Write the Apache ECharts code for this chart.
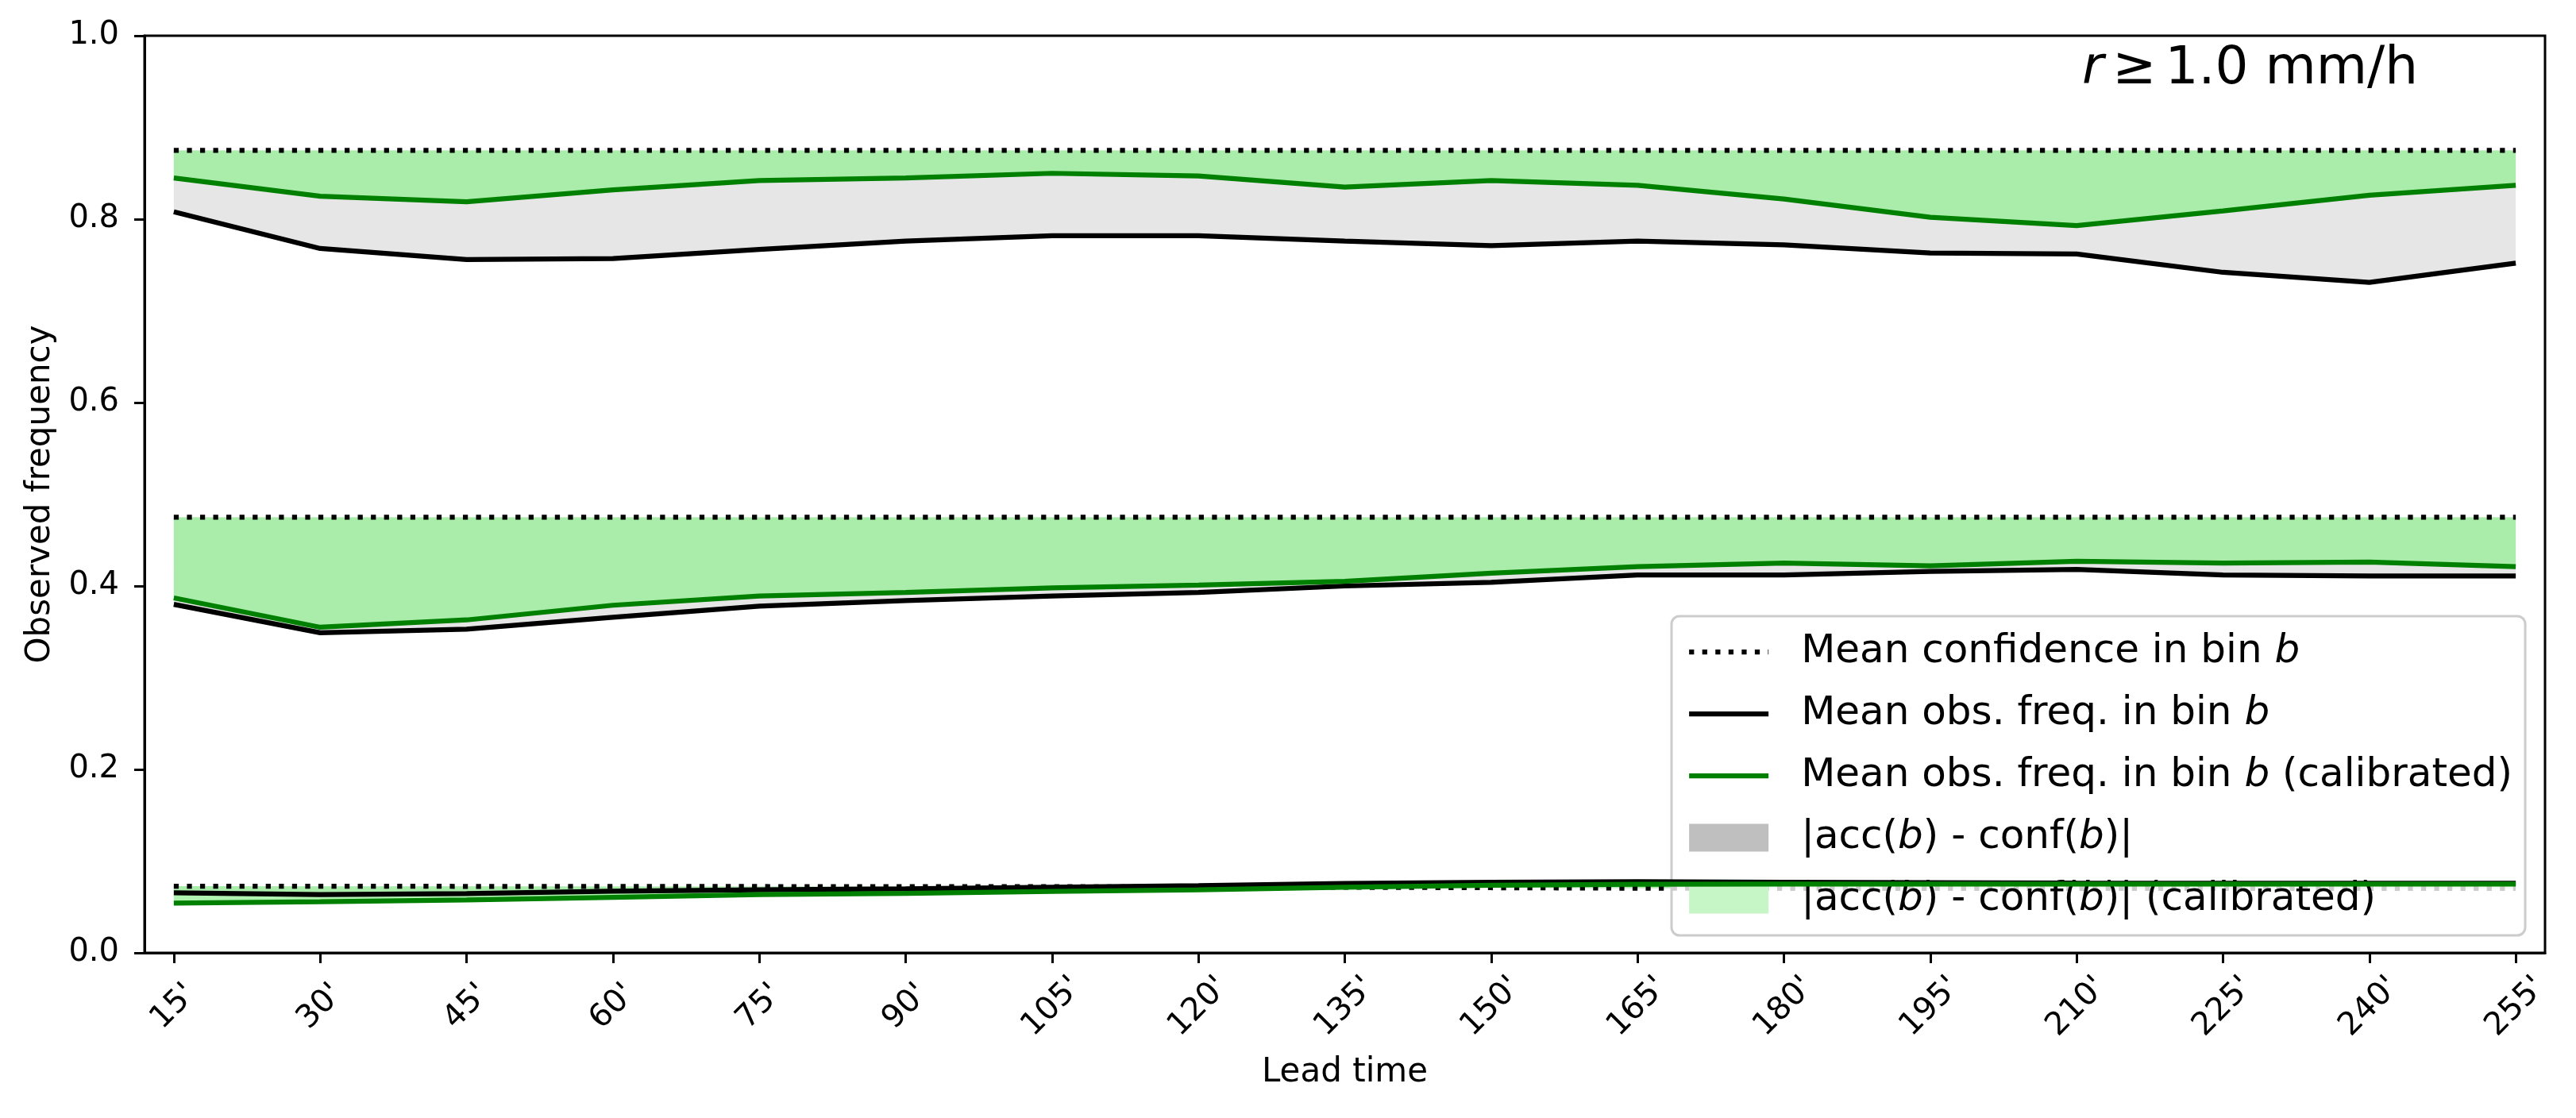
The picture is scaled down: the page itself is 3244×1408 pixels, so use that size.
<!DOCTYPE html>
<html>
<head>
<meta charset="utf-8">
<script src="https://cdn.jsdelivr.net/npm/echarts@6/dist/echarts.min.js"></script>
<style>
  html, body { margin: 0; padding: 0; background: #fff; }
  #chart { width: 3244px; height: 1408px; }
</style>
</head>
<body>
<div id="chart"></div>
<script>
// lead times (x ticks)
const leadTimes = ["15'", "30'", "45'", "60'", "75'", "90'", "105'", "120'", "135'",
  "150'", "165'", "180'", "195'", "210'", "225'", "240'", "255'"];

// upper bin
const confHigh = [0.875, 0.875, 0.875, 0.875, 0.875, 0.875, 0.875, 0.875, 0.875,
  0.875, 0.875, 0.875, 0.875, 0.875, 0.875, 0.875, 0.875];
const obsHigh = [0.808, 0.768, 0.756, 0.757, 0.767, 0.776, 0.782, 0.782, 0.776,
  0.771, 0.776, 0.772, 0.763, 0.762, 0.742, 0.731, 0.752];
const calHigh = [0.845, 0.825, 0.819, 0.832, 0.842, 0.845, 0.850, 0.847, 0.835,
  0.842, 0.837, 0.822, 0.802, 0.793, 0.809, 0.826, 0.837];

// middle bin
const confMid = [0.475, 0.475, 0.475, 0.475, 0.475, 0.475, 0.475, 0.475, 0.475,
  0.475, 0.475, 0.475, 0.475, 0.475, 0.475, 0.475, 0.475];
const obsMid = [0.380, 0.349, 0.353, 0.366, 0.378, 0.384, 0.389, 0.393, 0.400,
  0.404, 0.412, 0.412, 0.416, 0.418, 0.412, 0.411, 0.411];
const calMid = [0.387, 0.355, 0.363, 0.379, 0.389, 0.393, 0.398, 0.401, 0.405,
  0.414, 0.421, 0.425, 0.422, 0.427, 0.425, 0.426, 0.421];

// lower bin
const confLow = [0.0727, 0.0726, 0.0725, 0.0724, 0.0723, 0.0722, 0.0721, 0.0720, 0.0715,
  0.0710, 0.0705, 0.0703, 0.0702, 0.0702, 0.0702, 0.0702, 0.0702];
const obsLow = [0.0655, 0.0635, 0.0647, 0.0672, 0.0687, 0.0699, 0.0716, 0.0733, 0.0756,
  0.0770, 0.0776, 0.0770, 0.0765, 0.0760, 0.0758, 0.0758, 0.0758];
const calLow = [0.0543, 0.0557, 0.0577, 0.0606, 0.0635, 0.0649, 0.0669, 0.0687, 0.0716,
  0.0736, 0.0747, 0.0750, 0.0750, 0.0750, 0.0750, 0.0750, 0.0750];

const yTicks = [0, 0.2, 0.4, 0.6, 0.8, 1.0];

const FONT = 'DejaVu Sans';
const DOT = [6.25, 10.3];
const N_CONF = 'Mean confidence in bin b';
const N_OBS = 'Mean obs. freq. in bin b';
const N_CAL = 'Mean obs. freq. in bin b (calibrated)';
const N_GAP = '|acc(b) - conf(b)|';
const N_GAP_CAL = '|acc(b) - conf(b)| (calibrated)';

const legendRich = {
  [N_CONF]: 'Mean confidence in bin {i|b}',
  [N_OBS]: 'Mean obs. freq. in bin {i|b}',
  [N_CAL]: 'Mean obs. freq. in bin {i|b} (calibrated)',
  [N_GAP]: '|acc({i|b}) - conf({i|b})|',
  [N_GAP_CAL]: '|acc({i|b}) - conf({i|b})| (calibrated)'
};

const xy = arr => arr.map((v, i) => [i, v]);

// fill between two curves, one polygon per bin
const band = (name, fill, z, pairs) => ({
  name: name,
  type: 'custom',
  coordinateSystem: 'cartesian2d',
  z: z,
  silent: true,
  data: pairs.map((p, k) => [k, 0]),
  renderItem: (params, api) => {
    const [up, lo] = pairs[params.dataIndex];
    const pts = [];
    up.forEach((v, i) => pts.push(api.coord([i, v])));
    for (let i = lo.length - 1; i >= 0; i--) pts.push(api.coord([i, lo[i]]));
    return { type: 'polygon', shape: { points: pts }, style: { fill: fill } };
  }
});

const line = (name, arr, color, type, z) => ({
  name: name,
  type: 'line',
  data: xy(arr),
  symbol: 'none',
  z: z,
  silent: true,
  lineStyle: { color: color, width: 6.25, type: type, cap: 'butt' },
  itemStyle: { color: color }
});

const chart = echarts.init(document.getElementById('chart'));
const option = {
  animation: false,
  backgroundColor: '#fff',
  title: {
    text: '{i|r}\u2006\u2265\u20061.0 mm/h',
    left: 2617,
    top: 50,
    textStyle: {
      fontFamily: FONT, fontSize: 66, fontWeight: 'normal', color: '#000',
      rich: { i: { fontFamily: FONT, fontSize: 66, fontStyle: 'italic', color: '#000' } }
    }
  },
  grid: {
    left: 182, right: 39, top: 45, bottom: 208,
    show: true, borderColor: '#000', borderWidth: 3, backgroundColor: 'transparent'
  },
  legend: {
    orient: 'vertical',
    left: 2105,
    top: 776,
    padding: [20, 16, 20, 19],
    itemWidth: 100,
    itemHeight: 35,
    itemGap: 28,
    backgroundColor: 'rgba(255,255,255,0.8)',
    borderColor: '#cccccc',
    borderWidth: 3,
    borderRadius: 10,
    selectedMode: false,
    formatter: name => legendRich[name],
    textStyle: {
      fontFamily: FONT, fontSize: 50, color: '#000', lineHeight: 50,
      padding: [0, 0, 0, 36],
      rich: { i: { fontFamily: FONT, fontSize: 50, fontStyle: 'italic', color: '#000', lineHeight: 50 } }
    },
    data: [
      { name: N_CONF, itemStyle: { opacity: 0 }, lineStyle: { color: '#000', width: 6.25, type: DOT } },
      { name: N_OBS, itemStyle: { opacity: 0 }, lineStyle: { color: '#000', width: 6.25 } },
      { name: N_CAL, itemStyle: { opacity: 0 }, lineStyle: { color: '#008000', width: 6.25 } },
      { name: N_GAP, icon: 'rect', itemStyle: { color: '#bfbfbf' } },
      { name: N_GAP_CAL, icon: 'rect', itemStyle: { color: '#c6f5c6' } }
    ]
  },
  xAxis: {
    type: 'value',
    min: -0.2,
    max: leadTimes.length - 1 + 0.2,
    name: 'Lead time',
    nameLocation: 'middle',
    nameGap: 130,
    nameTextStyle: { fontFamily: FONT, fontSize: 42, color: '#000' },
    splitLine: { show: false },
    axisLine: { show: true, onZero: false, lineStyle: { color: '#000', width: 3 } },
    axisTick: {
      show: true, length: 13, inside: false,
      lineStyle: { color: '#000', width: 3 },
      customValues: leadTimes.map((t, i) => i)
    },
    axisLabel: {
      customValues: leadTimes.map((t, i) => i),
      formatter: v => leadTimes[Math.round(v)],
      rotate: 45,
      align: 'center',
      verticalAlign: 'middle',
      margin: 68,
      fontFamily: FONT, fontSize: 40, color: '#000'
    }
  },
  yAxis: {
    type: 'value',
    min: 0,
    max: 1,
    interval: 0.2,
    name: 'Observed frequency',
    nameLocation: 'middle',
    nameGap: 110,
    nameTextStyle: { fontFamily: FONT, fontSize: 42, color: '#000' },
    splitLine: { show: false },
    axisLine: { show: true, onZero: false, lineStyle: { color: '#000', width: 3 } },
    axisTick: { show: true, length: 13, inside: false, lineStyle: { color: '#000', width: 3 } },
    axisLabel: {
      customValues: yTicks,
      formatter: v => v.toFixed(1),
      margin: 32,
      fontFamily: FONT, fontSize: 40, color: '#000'
    }
  },
  series: [
    band(N_GAP, 'rgba(128,128,128,0.2)', 1,
      [[confHigh, obsHigh], [confMid, obsMid], [confLow, obsLow]]),
    band(N_GAP_CAL, 'rgba(144,238,144,0.7)', 2,
      [[confHigh, calHigh], [confMid, calMid], [confLow, calLow]]),
    line(N_CONF, confHigh, '#000', DOT, 3),
    line(N_CONF, confMid, '#000', DOT, 3),
    line(N_CONF, confLow, '#000', DOT, 3),
    line(N_OBS, obsHigh, '#000', 'solid', 4),
    line(N_OBS, obsMid, '#000', 'solid', 4),
    line(N_OBS, obsLow, '#000', 'solid', 4),
    line(N_CAL, calHigh, '#008000', 'solid', 5),
    line(N_CAL, calMid, '#008000', 'solid', 5),
    line(N_CAL, calLow, '#008000', 'solid', 5)
  ]
};
chart.setOption(option);
</script>
</body>
</html>
